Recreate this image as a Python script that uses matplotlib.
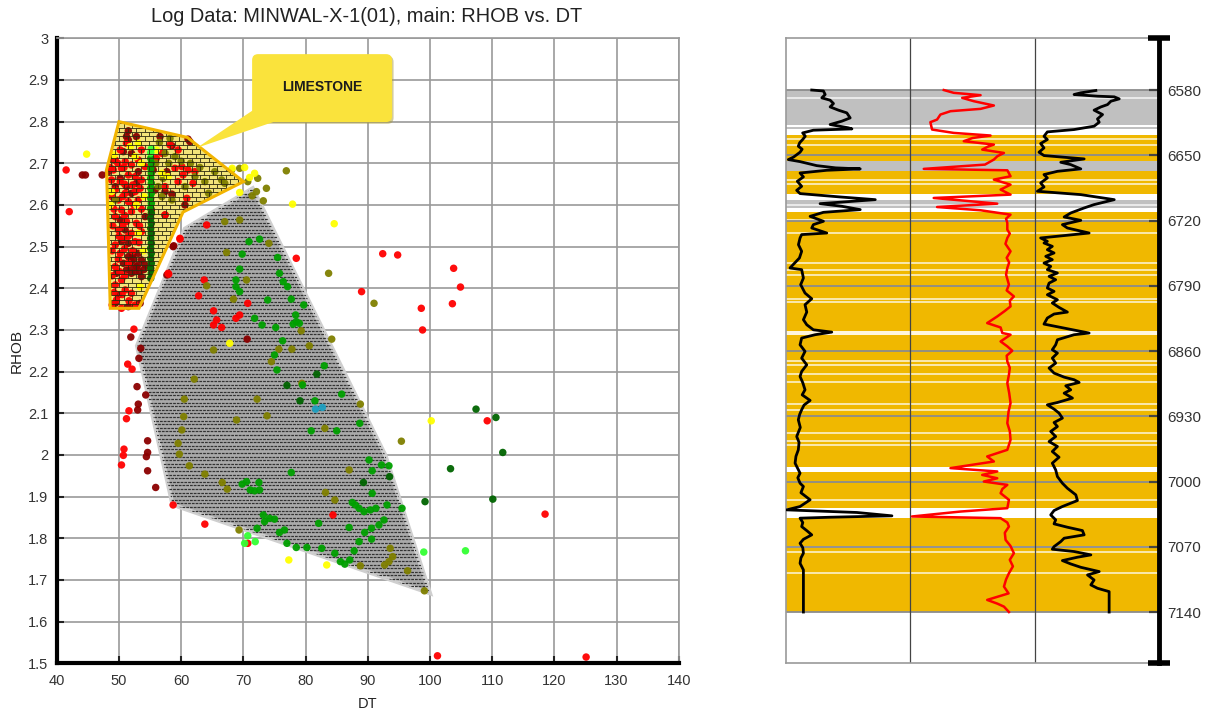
import numpy as np
import matplotlib
matplotlib.use("Agg")
import matplotlib.pyplot as plt
from matplotlib.patches import Polygon, FancyBboxPatch
from matplotlib.collections import LineCollection

plt.rcParams['font.family'] = ['Liberation Sans', 'DejaVu Sans']

# ---------------- RHOB vs DT crossplot data (DT, RHOB) ----------------
red_pts = [
    (41.5, 2.684), (42.0, 2.584), (59.8, 2.518), (64.1, 2.552), (78.5, 2.472), (58.0, 2.434),
    (63.7, 2.420), (62.8, 2.382), (92.4, 2.483), (94.8, 2.480), (89.0, 2.392), (98.6, 2.352),
    (98.8, 2.300), (70.7, 2.364), (52.4, 2.302), (103.8, 2.448), (104.9, 2.403), (103.6, 2.363),
    (109.2, 2.082), (118.5, 1.858), (101.2, 1.518), (125.1, 1.515), (51.4, 2.218), (52.1, 2.206),
    (51.6, 2.106), (51.2, 2.087), (50.8, 2.014), (50.7, 1.999), (50.4, 1.976), (58.7, 1.880),
    (63.8, 1.834), (70.7, 1.788), (65.2, 2.346), (65.2, 2.312), (65.7, 2.324), (66.5, 2.306),
    (68.8, 2.328), (69.4, 2.336), (84.4, 1.856),
    # limestone cluster
    (50.2, 2.732), (49.4, 2.708), (51.0, 2.704), (52.0, 2.696), (53.1, 2.708), (50.4, 2.688),
    (49.1, 2.684), (51.5, 2.672), (52.6, 2.668), (53.6, 2.660), (50.2, 2.656), (49.4, 2.636),
    (51.0, 2.628), (52.6, 2.632), (49.9, 2.612), (51.5, 2.608), (53.1, 2.612), (50.4, 2.588),
    (52.0, 2.584), (49.4, 2.572), (51.2, 2.560), (52.8, 2.556), (49.9, 2.540), (52.0, 2.532),
    (53.6, 2.536), (50.7, 2.520), (49.4, 2.504), (52.6, 2.512), (50.2, 2.484), (51.5, 2.460),
    (49.4, 2.452), (50.4, 2.420), (49.4, 2.408), (51.0, 2.396), (52.0, 2.388), (49.6, 2.372),
    (50.4, 2.352), (58.2, 2.744), (59.5, 2.732), (56.9, 2.724), (60.1, 2.692), (61.1, 2.684),
    (62.2, 2.680), (59.0, 2.688), (60.3, 2.672), (59.5, 2.656), (57.4, 2.644), (61.9, 2.652),
    (60.9, 2.616), (57.4, 2.576), (59.8, 2.520), (57.9, 2.436), (54.2, 2.692), (56.0, 2.712),
    (53.6, 2.732), (51.2, 2.748), (48.6, 2.690), (49.8, 2.700), (50.8, 2.690), (48.8, 2.660),
    (50.9, 2.650), (52.2, 2.648), (53.4, 2.640), (48.9, 2.620), (50.6, 2.620), (52.4, 2.600),
    (53.6, 2.590), (49.2, 2.590), (50.9, 2.575), (49.0, 2.550), (50.6, 2.550), (53.3, 2.550),
    (50.0, 2.525), (51.5, 2.525), (53.2, 2.510), (48.9, 2.490), (50.9, 2.495), (52.2, 2.490),
    (49.9, 2.470), (48.9, 2.430), (50.1, 2.440), (50.9, 2.430), (49.2, 2.390), (50.5, 2.385),
    (51.6, 2.370), (48.9, 2.360), (52.6, 2.360),
]
darkred_pts = [
    (44.1, 2.672), (44.6, 2.672), (47.3, 2.672), (58.8, 2.502), (51.9, 2.283), (53.5, 2.256),
    (53.2, 2.232), (52.9, 2.164), (54.3, 2.144), (53.1, 2.122), (53.0, 2.108), (54.6, 2.034),
    (54.6, 2.006), (54.4, 1.996), (54.6, 1.962), (55.9, 1.922), (70.6, 2.278),
    # limestone cluster
    (51.5, 2.778), (52.8, 2.764), (51.2, 2.764), (51.5, 2.756), (56.6, 2.764), (58.5, 2.742),
    (61.4, 2.752), (61.1, 2.758), (52.0, 2.724), (50.7, 2.728), (49.1, 2.708), (48.3, 2.680),
    (50.2, 2.664), (49.4, 2.644), (51.2, 2.644), (52.8, 2.652), (52.0, 2.628), (57.4, 2.632),
    (58.5, 2.626), (60.6, 2.600), (58.7, 2.500), (57.7, 2.432), (53.4, 2.364), (51.5, 2.356),
    (49.4, 2.364), (49.9, 2.384), (49.6, 2.436), (51.5, 2.476), (52.0, 2.464), (52.8, 2.452),
    (53.6, 2.468), (54.2, 2.456), (53.1, 2.484), (52.0, 2.436), (53.6, 2.428), (50.7, 2.460),
    (51.2, 2.444), (50.2, 2.564), (51.0, 2.540), (50.4, 2.512), (51.5, 2.508), (53.1, 2.680),
    (55.5, 2.684), (57.7, 2.680), (55.8, 2.636), (55.2, 2.588), (54.2, 2.572), (57.4, 2.576),
    (52.4, 2.470), (53.0, 2.455), (51.8, 2.450), (52.6, 2.440), (53.3, 2.440), (52.2, 2.480),
    (54.0, 2.445),
]
yellow_pts = [
    (44.8, 2.722), (70.2, 2.690), (71.8, 2.676), (69.4, 2.630), (71.0, 2.666), (77.9, 2.602),
    (84.6, 2.555), (68.2, 2.688), (77.3, 1.748), (83.4, 1.736), (100.2, 2.082), (67.8, 2.268),
    (53.1, 2.748), (51.8, 2.740), (53.6, 2.700), (52.6, 2.716), (48.8, 2.632), (52.8, 2.600),
    (53.1, 2.532), (56.0, 2.732), (56.9, 2.676), (57.9, 2.668), (53.4, 2.404), (48.6, 2.600),
    (49.2, 2.720), (54.0, 2.620), (53.9, 2.490),
]
olive_pts = [
    (76.9, 2.682), (73.7, 2.640), (73.2, 2.610), (71.4, 2.622), (72.1, 2.632), (70.7, 2.656),
    (72.3, 2.664), (69.4, 2.688), (67.0, 2.560), (69.4, 2.564), (74.1, 2.508), (67.3, 2.486),
    (70.5, 2.420), (64.1, 2.406), (68.4, 2.374), (83.7, 2.436), (91.0, 2.364), (84.2, 2.278),
    (65.2, 2.252), (75.7, 2.254), (74.5, 2.224), (79.3, 2.298), (77.8, 2.254), (80.6, 2.262),
    (62.1, 2.182), (60.5, 2.134), (60.4, 2.092), (60.1, 2.060), (59.5, 2.028), (59.7, 2.002),
    (61.3, 1.974), (63.8, 1.954), (66.6, 1.934), (67.4, 1.918), (68.9, 2.084), (72.2, 2.134),
    (73.8, 2.094), (79.4, 2.172), (83.1, 2.064), (88.8, 2.122), (95.4, 2.033), (87.0, 1.964),
    (83.2, 1.910), (84.7, 1.892), (93.6, 1.776), (94.0, 1.756), (93.4, 1.744), (92.7, 1.736),
    (88.8, 1.734), (96.4, 1.722), (99.1, 1.674), (69.3, 1.820),
    # limestone cluster
    (57.4, 2.724), (59.0, 2.716), (57.1, 2.664), (60.6, 2.644), (63.8, 2.656), (65.4, 2.680),
    (66.5, 2.660), (62.2, 2.668), (58.5, 2.612), (49.4, 2.612), (56.9, 2.620), (67.0, 2.652),
    (68.1, 2.684), (64.4, 2.628), (56.3, 2.644), (58.0, 2.700), (60.0, 2.705), (61.5, 2.700),
    (63.0, 2.690), (55.9, 2.700), (56.5, 2.750), (58.2, 2.760),
]
green_pts = [
    (79.7, 2.360), (78.4, 2.336), (78.5, 2.320), (78.0, 2.314), (79.0, 2.316), (71.8, 2.328),
    (73.0, 2.312), (75.2, 2.306), (76.3, 2.274), (75.0, 2.240), (75.4, 2.204), (79.5, 2.168),
    (83.0, 2.214), (81.5, 2.130), (80.9, 2.058), (85.0, 2.058), (85.8, 2.146), (88.7, 2.076),
    (90.2, 1.988), (90.7, 1.962), (92.2, 1.976), (93.4, 1.974), (90.7, 1.908), (87.5, 1.886),
    (88.0, 1.880), (88.6, 1.872), (89.4, 1.864), (90.4, 1.868), (91.3, 1.872), (93.1, 1.880),
    (95.5, 1.872), (92.6, 1.844), (91.8, 1.832), (90.6, 1.824), (90.6, 1.798), (89.5, 1.814),
    (88.6, 1.792), (87.8, 1.770), (87.0, 1.826), (84.7, 1.764), (85.6, 1.744), (86.3, 1.738),
    (87.1, 1.748), (82.1, 1.836), (82.6, 1.776), (80.2, 1.778), (78.5, 1.778), (77.0, 1.788),
    (76.6, 1.820), (75.8, 1.814), (75.0, 1.846), (74.2, 1.848), (73.2, 1.856), (73.4, 1.840),
    (72.2, 1.824), (69.8, 1.930), (70.5, 1.936), (71.1, 1.916), (71.8, 1.914), (72.6, 1.916),
    (72.5, 1.934), (77.7, 1.958), (70.9, 2.512), (72.6, 2.518), (75.5, 2.474), (69.4, 2.446),
    (68.8, 2.420), (68.8, 2.404), (69.4, 2.392), (75.8, 2.436), (76.4, 2.416), (77.1, 2.404),
    (73.9, 2.372), (77.7, 2.374), (69.8, 2.482),
    # vertical streak at DT ~55
    (55.1, 2.712), (55.2, 2.700), (55.1, 2.688), (55.2, 2.676), (55.1, 2.664), (55.2, 2.652),
    (55.1, 2.640), (55.2, 2.628), (55.1, 2.616), (55.2, 2.604), (55.1, 2.592),
]
darkgreen_pts = [
    (77.0, 2.167), (79.1, 2.130), (81.8, 2.194), (93.5, 1.948), (89.3, 1.934), (99.2, 1.888),
    (107.4, 2.110), (110.6, 2.090), (111.7, 2.006), (103.3, 1.967), (110.1, 1.894),
    (55.2, 2.580), (55.1, 2.568), (55.2, 2.556), (55.1, 2.544), (55.2, 2.532), (55.1, 2.520),
    (55.2, 2.508), (55.1, 2.496), (55.2, 2.484), (55.1, 2.472), (55.2, 2.460), (55.1, 2.448),
    (55.2, 2.436), (55.1, 2.424),
]
lightgreen_pts = [
    (70.7, 1.806), (70.2, 1.788), (71.9, 1.792), (99.0, 1.767), (105.7, 1.770),
    (55.2, 2.735), (55.1, 2.725),
]
cyan_pts = [(81.6, 2.110), (82.7, 2.114)]

point_groups = [
    (darkred_pts, '#8b0000'), (red_pts, '#ff0000'), (olive_pts, '#808000'),
    (yellow_pts, '#ffff00'), (green_pts, '#00a000'), (darkgreen_pts, '#006400'),
    (lightgreen_pts, '#33ff33'), (cyan_pts, '#1e9fc0'),
]

limestone_zone = [(50.0, 2.800), (61.0, 2.762), (70.0, 2.656), (60.3, 2.583),
                  (53.2, 2.352), (48.6, 2.352), (48.0, 2.685)]
shale_zone = [(71.5, 2.640), (92.8, 2.000), (100.0, 1.668), (59.5, 1.876),
              (58.5, 1.888), (52.9, 2.262), (60.6, 2.543)]

# ---------------- well log data ----------------
gr_depth = [6580, 6581, 6584.8, 6588.4, 6590.9, 6594.5, 6598.1, 6601.6, 6604.5, 6609.9, 6613.4,
            6617.0, 6620.5, 6621.7, 6623.1, 6626.0, 6629.5, 6633.1, 6636.5, 6640.3, 6643.5, 6646.7,
            6652.0, 6654.6, 6656.8, 6661.1, 6663.5, 6664.6, 6666.1, 6669.0, 6673.2, 6677.9, 6683.3,
            6687.6, 6691.1, 6694.7, 6697.6, 6701.9, 6704.7, 6708.3, 6711.2, 6715.5, 6720.8, 6724.4,
            6728.0, 6733.4, 6735.1, 6738.7, 6745.9, 6753.0, 6760.2, 6770.9, 6772.7, 6781.7, 6788.8,
            6797.8, 6803.9, 6810.3, 6818.2, 6826.4, 6831.8, 6837.2, 6839.7, 6842.5, 6846.1, 6853.3,
            6860.4, 6867.6, 6874.8, 6881.9, 6887.3, 6894.0, 6901.6, 6907.0, 6913.0, 6918.0, 6923.0,
            6928.0, 6933.8, 6942.0, 6951.7, 6958.0, 6966.0, 6973.0, 6980.3, 6991.0, 6996.0, 7001.8,
            7005.3, 7012.0, 7019.6, 7026.8, 7030.4, 7033.2, 7036.8, 7038.3, 7039.3, 7044.0, 7048.3,
            7053.0, 7057.2, 7062.0, 7066.2, 7071.0, 7076.9, 7082.0, 7087.7, 7094.8, 7140.0]
gr = [20.7, 30.1, 31.5, 28.8, 35.5, 38.2, 35.5, 42.2, 48.9, 51.6, 44.9,
      35.5, 50.0, 53.0, 22.0, 13.4, 15.5, 13.4, 11.0, 9.9, 13.0, 11.3,
      6.0, 1.9, 11.3, 24.7, 40.0, 59.7, 32.8, 11.3, 14.0, 9.1, 12.6,
      8.6, 11.3, 43.5, 71.8, 27.4, 44.9, 59.7, 30.1, 19.4, 30.1, 22.0,
      20.7, 32.8, 12.6, 11.3, 10.0, 12.6, 10.8, 3.2, 12.6, 14.0, 11.8,
      15.3, 20.7, 15.3, 16.7, 14.0, 16.7, 22.0, 36.8, 23.4, 12.6, 11.3,
      15.3, 12.6, 16.7, 12.6, 11.3, 13.5, 15.3, 13.0, 19.4, 14.5, 12.6,
      11.0, 9.9, 11.5, 8.6, 10.5, 9.9, 8.0, 7.3, 11.3, 9.5, 11.3,
      14.0, 12.0, 19.4, 11.3, 0.5, 57.0, 85.2, 35.5, 11.3, 13.5, 12.6,
      17.0, 20.7, 14.0, 11.3, 13.5, 14.0, 12.0, 11.3, 14.0, 14.0]

dt_depth = [6580, 6583, 6585.5, 6588.4, 6592, 6596.6, 6600.2, 6602.7, 6606.3, 6611.7, 6614.5,
            6622.4, 6626, 6628.8, 6631.5, 6634.9, 6638.5, 6641.0, 6643.9, 6647.5, 6651.0, 6654.6,
            6660, 6664.6, 6666.1, 6672.5, 6676.1, 6681.5, 6686.8, 6692.2, 6695.8, 6698.3, 6701.9,
            6705.5, 6709, 6713.7, 6718.0, 6722.6, 6729.8, 6734.0, 6738.7, 6745.0, 6753, 6760.0,
            6765.0, 6770.9, 6778.0, 6788.8, 6795.0, 6801.4, 6806.0, 6812.1, 6817.0, 6822.9, 6830,
            6834.7, 6840.7, 6842.5, 6849.7, 6855.0, 6859.7, 6865.0, 6871.2, 6878.0, 6885.5, 6894.4,
            6905.0, 6915.9, 6925.0, 6937.4, 6946.0, 6955.3, 6966, 6973.1, 6978.5, 6985.6, 6989.2,
            6992.9, 6996.5, 7000, 7003.6, 7008.0, 7012.5, 7019.6, 7028.6, 7032.2, 7037.5, 7039.3,
            7044.0, 7048.3, 7055.0, 7062.6, 7069.0, 7076.9, 7084.0, 7091.0, 7098.4, 7105.0, 7112.7,
            7120.0, 7127, 7131.0, 7134.2, 7140]
dt = [113.1, 105.1, 83.5, 98.3, 88.9, 72.8, 83.5, 107.7, 115.8, 118.5, 123.9,
      122.5, 105.1, 75.5, 90.0, 97.0, 72.8, 78.0, 82.2, 64.7, 70.0, 72.8,
      80.0, 129.2, 62.0, 59.4, 72.8, 59.4, 67.4, 59.4, 121.2, 100.0, 70.1,
      118.5, 83.5, 59.4, 63.0, 62.0, 62.0, 60.0, 62.0, 63.5, 59.4, 62.5,
      60.5, 62.0, 63.0, 60.7, 62.5, 56.7, 60.0, 59.4, 64.0, 70.1, 78.2,
      67.4, 66.0, 59.4, 67.4, 62.0, 58.0, 62.5, 62.0, 60.0, 60.7, 62.0,
      60.5, 59.4, 61.0, 62.0, 60.0, 59.4, 62.0, 78.2, 72.8, 107.7, 70.1,
      82.2, 70.1, 80.9, 62.0, 66.0, 67.4, 60.7, 62.0, 99.7, 138.7, 67.4,
      62.0, 60.7, 64.0, 63.4, 59.5, 56.7, 60.0, 57.5, 60.7, 63.0, 64.7,
      61.0, 78.2, 70.0, 64.7, 60.7]

rhob_depth = [6580.5, 6583.0, 6584.8, 6586.6, 6587.3, 6589.5, 6592.0, 6595.6, 6598.1, 6601.6,
              6606.3, 6611.0, 6614.5, 6618.8, 6622.4, 6624.9, 6629.6, 6633.1, 6637.4, 6642.1,
              6646.7, 6650.3, 6653.9, 6657.5, 6660.0, 6664.6, 6667.2, 6670.7, 6674.3, 6679.7,
              6684.0, 6688.6, 6692.2, 6697.6, 6702.9, 6706.5, 6711.9, 6716.2, 6719.8, 6724.4,
              6728.0, 6733.4, 6738.7, 6742.3, 6744.1, 6747.7, 6751.3, 6754.8, 6758.4, 6762.0,
              6765.6, 6769.2, 6772.7, 6776.3, 6779.9, 6783.5, 6787.1, 6792.4, 6796.0, 6799.6,
              6805.0, 6808.5, 6813.2, 6818.2, 6820.3, 6824.6, 6831.1, 6835.4, 6840.7, 6842.5,
              6847.9, 6853.3, 6858.6, 6862.2, 6867.6, 6873.0, 6878.3, 6883.7, 6888.0, 6890.8,
              6893.7, 6897.3, 6901.6, 6905.2, 6910.5, 6915.2, 6917.7, 6922.3, 6926.6, 6932.0,
              6936.7, 6941.0, 6946.3, 6951.7, 6957.1, 6962.4, 6967.8, 6973.9, 6980.3, 6987.5,
              6994.7, 7001.8, 7007.2, 7014.3, 7020.4, 7026.8, 7031.1, 7035.8, 7041.1, 7045.4,
              7049.0, 7052.6, 7057.2, 7060.8, 7064.4, 7069.8, 7072.6, 7075.1, 7078.7, 7081.2,
              7084.8, 7088.4, 7092.0, 7096.6, 7100.2, 7105.6, 7110.9, 7114.5, 7118.1, 7140.0]
rhob = [2.442, 2.321, 2.267, 2.455, 2.590, 2.630, 2.563, 2.536, 2.483, 2.428,
        2.496, 2.455, 2.469, 2.428, 2.267, 2.052, 2.025, 2.052, 1.998, 2.025,
        1.985, 2.025, 2.348, 2.160, 2.240, 2.321, 2.133, 2.025, 2.052, 1.998,
        2.025, 1.972, 2.321, 2.590, 2.428, 2.348, 2.240, 2.187, 2.321, 2.173,
        2.213, 2.388, 1.998, 2.052, 2.025, 2.092, 2.052, 2.106, 2.039, 2.092,
        2.025, 2.079, 2.052, 2.133, 2.066, 2.119, 2.066, 2.052, 2.106, 2.052,
        2.133, 2.092, 2.146, 2.213, 2.106, 2.052, 2.025, 2.187, 2.388, 2.267,
        2.133, 2.119, 2.092, 2.133, 2.092, 2.119, 2.066, 2.106, 2.187, 2.267,
        2.308, 2.200, 2.240, 2.187, 2.254, 2.133, 2.052, 2.106, 2.146, 2.173,
        2.106, 2.133, 2.079, 2.119, 2.066, 2.133, 2.092, 2.146, 2.092, 2.119,
        2.133, 2.173, 2.213, 2.281, 2.294, 2.173, 2.106, 2.079, 2.119, 2.106,
        2.213, 2.334, 2.348, 2.187, 2.160, 2.106, 2.092, 2.267, 2.402, 2.294,
        2.173, 2.240, 2.321, 2.469, 2.375, 2.428, 2.402, 2.455, 2.549, 2.549]

# lithology intervals: (top, base, kind)
litho = [(6580, 6618, 'shale'), (6619.3, 6621.3, 'shale'), (6628, 6656, 'lime'),
         (6656, 6667, 'shale'), (6667, 6692, 'lime'), (6697.5, 6707, 'shale'),
         (6711, 6984, 'lime'), (6989.3, 7028.5, 'lime'), (7039.3, 7140, 'lime')]
bed_breaks = [6589, 6633, 6639, 6676, 6681, 6703, 6719, 6733.4, 6765.6, 6772.7, 6778,
              6803.9, 6807.5, 6870.5, 6874.8, 6884.4, 6893.3, 6917, 6923, 6948, 6957,
              6960.6, 7019.6, 7069.8, 7075.1, 7097.7]
depth_ticks = list(range(6580, 7141, 70))

# ---------------- figure ----------------
fig = plt.figure(figsize=(12.09, 7.15), dpi=100)
W, H = 1209.0, 715.0
ax = fig.add_axes([56.8 / W, 1 - 663.3 / H, (678.8 - 56.8) / W, (663.3 - 38.3) / H])
ax.set_xlim(40, 140)
ax.set_ylim(1.5, 3.0)
ax.set_axisbelow(True)

xt = list(range(40, 141, 10))
yt = [round(1.5 + 0.1 * i, 1) for i in range(16)]
ax.set_xticks(xt)
ax.set_yticks(yt)
ax.set_xticklabels([str(v) for v in xt])
ax.set_yticklabels([f'{v:g}' for v in yt])
ax.grid(True, color='#9a9a9a', lw=1.2)
ax.tick_params(direction='in', length=5, width=1.5, colors='#222', labelsize=10.5,
               labelcolor='#333')
ax.tick_params(axis='x', pad=8)
ax.tick_params(axis='y', pad=6)
for s in ('left', 'bottom'):
    ax.spines[s].set_linewidth(3)
    ax.spines[s].set_color('black')
for s in ('top', 'right'):
    ax.spines[s].set_linewidth(1.2)
    ax.spines[s].set_color('#9a9a9a')
ax.set_xlabel('DT', fontsize=10.5, color='#222', labelpad=6)
ax.set_ylabel('RHOB', fontsize=11, color='#222', labelpad=3)
fig.text(367 / W, 1 - 17 / H, 'Log Data: MINWAL-X-1(01), main: RHOB vs. DT',
         ha='center', va='center', fontsize=14.4, color='#222')

px_dt = 10 / 62.2      # DT units per pixel
px_rh = 0.1 / 41.67    # RHOB units per pixel


def brick_fill(patch, poly, row_px, brick_px, color, lw, z):
    xs = [p[0] for p in poly]
    ys = [p[1] for p in poly]
    h = row_px * px_rh
    w = brick_px * px_dt
    segs = []
    y = min(ys)
    i = 0
    while y < max(ys):
        segs.append([(min(xs), y), (max(xs), y)])
        x = min(xs) + 0.5 * w * (i % 2)
        while x < max(xs):
            segs.append([(x, y), (x, y + h)])
            x += w
        y += h
        i += 1
    lc = LineCollection(segs, colors=color, linewidths=lw, zorder=z)
    ax.add_collection(lc)
    lc.set_clip_path(patch)


def dash_fill(patch, poly, row_px, color, lw, z):
    xs = [p[0] for p in poly]
    ys = [p[1] for p in poly]
    h = row_px * px_rh
    rows = []
    y = min(ys)
    while y < max(ys):
        rows.append(y)
        y += h
    for k, off in ((0, 0.0), (1, 1.5)):
        segs = [[(min(xs), r), (max(xs), r)] for r in rows[k::2]]
        lc = LineCollection(segs, colors=color, linewidths=lw, zorder=z,
                            linestyles=[(off, (2.2, 0.8))])
        ax.add_collection(lc)
        lc.set_clip_path(patch)


# shale zone (drawn under the points)
shale_fill = Polygon(shale_zone, closed=True, fc='#aaaaaa', ec='#cfcfcf', lw=3, zorder=1.2)
ax.add_patch(shale_fill)
dash_fill(shale_fill, shale_zone, 3.6, '#333333', 0.9, 1.4)

# limestone zone
lime_fill = Polygon(limestone_zone, closed=True, fc='#f3e47a', ec='none', zorder=1.2)
ax.add_patch(lime_fill)

for pts, col in point_groups:
    arr = np.array(pts)
    ax.scatter(arr[:, 0], arr[:, 1], s=29, c=col, edgecolors='none', zorder=2.5, alpha=0.95)

brick_fill(lime_fill, limestone_zone, 4.3, 8.5, '#2e2a10', 0.6, 3.0)
ax.add_patch(Polygon(limestone_zone, closed=True, fc='none', ec='#f2b400', lw=2.2, zorder=3.2))

# callout label
box_l, box_r, box_b, box_t = 71.4, 93.9, 2.799, 2.962
tip = (62.5, 2.737)
asp = px_rh / px_dt
ax.add_patch(FancyBboxPatch((box_l + 1.5 * px_dt, box_b - 1.8 * px_rh), box_r - box_l, box_t - box_b,
                            boxstyle=f'round,pad=0,rounding_size={6 * px_dt}', mutation_aspect=asp,
                            fc='#a89a3c', ec='none', alpha=0.5, zorder=5))
ax.add_patch(FancyBboxPatch((box_l, box_b), box_r - box_l, box_t - box_b,
                            boxstyle=f'round,pad=0,rounding_size={6 * px_dt}', mutation_aspect=asp,
                            fc='#fae33c', ec='none', zorder=6))
ax.add_patch(Polygon([(box_l, 2.826), tip, (74.8, box_b), (74.8, 2.826)], closed=True,
                     fc='#fae33c', ec='none', zorder=6))
ax.text((box_l + box_r) / 2, 2.883, 'LIMESTONE', ha='center', va='center', fontsize=10,
        fontweight='bold', color='#1c1c1c', zorder=7)

# ---------------- log track panel ----------------
ax2 = fig.add_axes([786 / W, 1 - 663.3 / H, (1159 - 786) / W, (663.3 - 38.3) / H])
ax2.set_xlim(0, 3)
ax2.set_ylim(7195, 6524.5)

litho_colors = {'shale': '#c0c0c0', 'lime': '#f0b800'}
for top, base, kind in litho:
    ax2.axhspan(top, base, color=litho_colors[kind], lw=0, zorder=1)
for d in bed_breaks:
    ax2.axhline(d, color='white', lw=1.2, alpha=0.8, zorder=1.1)
ax2.axhspan(6839, 6843, color='#fff6dc', lw=0, zorder=1.1)

for d in depth_ticks:
    ax2.axhline(d, color='#8c8c8c', lw=1.3, zorder=1.5)
for xv in (1, 2):
    ax2.axvline(xv, color='#444444', lw=0.9, zorder=1.6)

ax2.plot(np.array(gr) / 100.0, gr_depth, color='black', lw=2.0, zorder=3)
ax2.plot(1 + (140 - np.array(dt)) / 100.0, dt_depth, color='#ff0000', lw=1.8, zorder=3)
ax2.plot(2 + (np.array(rhob) - 1.95), rhob_depth, color='black', lw=2.0, zorder=3)

ax2.set_xticks([])
ax2.set_yticks(depth_ticks)
ax2.set_yticklabels([str(d) for d in depth_ticks])
ax2.yaxis.tick_right()
ax2.tick_params(axis='y', direction='in', length=7, width=1.6, colors='#444',
                labelsize=11, labelcolor='#333', pad=6)
ax2.spines['right'].set_linewidth(3.5)
ax2.spines['right'].set_color('black')
for s in ('left', 'top', 'bottom'):
    ax2.spines[s].set_color('#9a9a9a')
    ax2.spines[s].set_linewidth(1.2)
for yv in (0, 1):
    ax2.plot([0.9705, 1.0295], [yv, yv], transform=ax2.transAxes, color='black', lw=4,
             clip_on=False, solid_capstyle='butt', zorder=5)

fig.savefig('out.png', dpi=100)
